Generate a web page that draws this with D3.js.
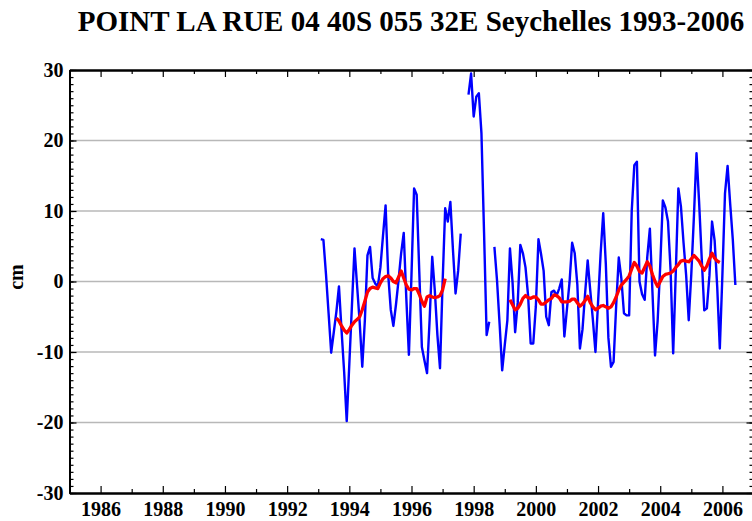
<!DOCTYPE html>
<html>
<head>
<meta charset="utf-8">
<script src="https://cdn.jsdelivr.net/npm/d3@7"></script>
<style>
  body { margin: 0; background: #fff; }
  text { font-family: "Liberation Serif", "Times New Roman", serif; font-weight: bold; fill: #000; }
</style>
</head>
<body>
<div id="chart"></div>
<script>
// Monthly sea level (cm), first value is Jan 1993; null = no data
var startYear = 1993;
var blueValues = [
    6.0, 5.9, 1.0, -4.5, -10.1, -7.2, -4.3, -0.7, -6.9, -12.8, -19.8, -11.7,
    -3.5, 4.7, -0.6, -5.8, -12.1, -5.5, 3.7, 4.9, 0.5, -0.3, -0.7, 2.0,
    6.5, 10.8, 1.0, -4.0, -6.3, -3.3, 0.2, 4.0, 6.9, -2.4, -10.4, 1.0,
    13.2, 12.3, 1.4, -9.3, -11.2, -13.0, -5.4, 3.5, -1.3, -7.6, -12.3, -0.2,
    10.4, 8.5, 11.3, 4.5, -1.7, 1.5, 6.8, null, null, 26.5, 29.5, 23.4,
    26.2, 26.7, 21.0, 7.0, -7.6, -5.7, null, 4.9, 0.2, -6.0, -12.6, -9.0,
    -5.5, 4.7, -0.1, -7.2, -3.0, 5.2, 4.0, 2.0, -2.0, -8.8, -8.8, -3.5,
    6.0, 3.9, 1.5, -5.0, -6.2, -1.5, -1.3, -2.0, -1.0, 0.3, -7.8, -3.9,
    -0.1, 5.5, 4.0, -0.4, -9.5, -6.8, -1.7, 3.0, -1.3, -5.4, -10.0, -3.0,
    4.0, 9.7, 2.5, -8.0, -12.1, -11.4, -3.4, 3.4, 0.4, -4.5, -4.8, -4.8,
    10.0, 16.5, 17.0, 0.0, -1.8, -2.6, 3.5, 7.5, -1.5, -10.5, -5.6, 2.2,
    11.5, 10.5, 8.5, 1.6, -10.2, 1.2, 13.2, 10.6, 5.5, 0.9, -5.5, 1.1,
    9.2, 18.2, 11.3, 3.4, -4.1, -3.8, 0.9, 8.5, 5.8, -0.8, -9.5, 1.0,
    12.5, 16.4, 11.0, 6.0, -0.5
];

// Smoothed (red) curve, two pieces; start = month index counted from Jan 1993
var redStart1 = 6;
var redValues1 = [
    -5.2, -5.6, -6.3, -6.9, -7.3, -6.8, -6.2, -5.7, -5.4, -5.0, -4.0, -2.8,
    -1.5, -1.0, -0.8, -0.9, -1.0, -0.2, 0.4, 0.7, 0.8, 0.5, 0.0, -0.2,
    0.6, 1.5, 0.5, -0.5, -1.1, -1.2, -1.0, -1.0, -1.8, -2.8, -3.5, -2.2,
    -2.0, -2.2, -2.3, -2.2, -2.0, -1.2, 0.4
];
var redStart2 = 73;
var redValues2 = [
    -2.6, -3.3, -4.0, -3.8, -3.2, -2.4, -2.0, -2.3, -2.4, -2.2, -2.2, -2.6,
    -3.2, -3.2, -2.9, -2.6, -2.4, -1.9, -2.0, -2.3, -2.9, -2.9, -2.9, -2.8,
    -2.5, -2.5, -3.0, -3.5, -3.2, -2.7, -2.1, -3.0, -3.6, -4.0, -3.8, -3.5,
    -3.4, -3.6, -3.8, -3.6, -3.0, -2.2, -1.2, -0.5, -0.1, 0.3, 0.8, 1.8,
    2.7, 2.2, 1.4, 1.2, 2.0, 2.8, 2.2, 1.0, 0.0, -0.7, 0.0, 0.7,
    1.0, 1.1, 1.2, 1.5, 2.0, 2.4, 2.9, 3.0, 2.9, 2.8, 3.2, 3.7,
    3.3, 2.9, 2.2, 1.6, 2.2, 3.2, 4.0, 3.3, 2.9, 2.7
];

var xLabelYears = [1986, 1988, 1990, 1992, 1994, 1996, 1998, 2000, 2002, 2004, 2006];
var xMinorYears = [1985, 1987, 1989, 1991, 1993, 1995, 1997, 1999, 2001, 2003, 2005, 2007];
var yMajorTicks = [-30, -20, -10, 0, 10, 20, 30];
var yGridValues = [-20, -10, 0, 10, 20];
var titleText = "POINT LA RUE 04 40S 055 32E Seychelles 1993-2006";

function monthTime(i) { return startYear + (i + 1) / 12; }

var width = 752, height = 521;
var plotLeft = 69.5, plotRight = 753.5, plotTop = 70, plotBottom = 493;

var svg = d3.select("#chart").append("svg")
    .attr("width", width)
    .attr("height", height);

svg.append("rect").attr("width", width).attr("height", height).attr("fill", "#fff");

var x = d3.scaleLinear().domain([1985, 2007]).range([plotLeft, plotRight]);
var y = d3.scaleLinear().domain([-30, 30]).range([plotBottom, plotTop]);

// grid
svg.append("g").selectAll("line")
    .data(yGridValues)
    .enter().append("line")
    .attr("x1", plotLeft).attr("x2", plotRight)
    .attr("y1", d => y(d)).attr("y2", d => y(d))
    .attr("stroke", "#b8b8b8")
    .attr("stroke-width", 1.3);

// series
var blueData = blueValues.map((v, i) => ({t: monthTime(i), v: v}));
var line = d3.line()
    .defined(d => d.v !== null)
    .x(d => x(d.t))
    .y(d => y(d.v));

svg.append("path")
    .datum(blueData)
    .attr("fill", "none")
    .attr("stroke", "#0000ff")
    .attr("stroke-width", 2.4)
    .attr("stroke-linejoin", "round")
    .attr("d", line);

[[redStart1, redValues1], [redStart2, redValues2]].forEach(function(s) {
    var pts = s[1].map((v, i) => ({t: monthTime(s[0] + i), v: v}));
    svg.append("path")
        .datum(pts)
        .attr("fill", "none")
        .attr("stroke", "#ff0000")
        .attr("stroke-width", 3.3)
        .attr("stroke-linejoin", "round")
        .attr("d", line);
});

// axes: ticks point inward
function styleAxis(g) {
    g.select(".domain").attr("stroke", "#000").attr("stroke-width", 2);
    g.selectAll(".tick line").attr("stroke", "#000").attr("stroke-width", 1.2);
    g.selectAll("text").attr("font-size", 20).attr("font-family", "Liberation Serif, serif")
        .attr("font-weight", "bold").attr("fill", "#000");
}

var yMinor = d3.range(-30, 31, 1);
var plainFormat = function(d) { return String(d); };

svg.append("g").attr("transform", "translate(0," + plotBottom + ")")
    .call(d3.axisBottom(x).tickValues(xMinorYears).tickSize(-4).tickSizeOuter(0).tickFormat(""))
    .call(styleAxis);
svg.append("g").attr("transform", "translate(0," + plotBottom + ")")
    .call(d3.axisBottom(x).tickValues(xLabelYears).tickSize(-7).tickSizeOuter(0).tickPadding(9).tickFormat(plainFormat))
    .call(styleAxis);

svg.append("g").attr("transform", "translate(0," + plotTop + ")")
    .call(d3.axisTop(x).tickValues(xMinorYears).tickSize(-4).tickSizeOuter(0).tickFormat(""))
    .call(styleAxis);
svg.append("g").attr("transform", "translate(0," + plotTop + ")")
    .call(d3.axisTop(x).tickValues(xLabelYears).tickSize(-7).tickSizeOuter(0).tickFormat(""))
    .call(styleAxis);

svg.append("g").attr("transform", "translate(" + plotLeft + ",0)")
    .call(d3.axisLeft(y).tickValues(yMinor).tickSize(-4).tickSizeOuter(0).tickFormat(""))
    .call(styleAxis);
svg.append("g").attr("transform", "translate(" + plotLeft + ",0)")
    .call(d3.axisLeft(y).tickValues(yMajorTicks).tickSize(-7).tickSizeOuter(0).tickPadding(6).tickFormat(plainFormat))
    .call(styleAxis);

svg.append("g").attr("transform", "translate(" + plotRight + ",0)")
    .call(d3.axisRight(y).tickValues(yMinor).tickSize(-4).tickSizeOuter(0).tickFormat(""))
    .call(styleAxis);
svg.append("g").attr("transform", "translate(" + plotRight + ",0)")
    .call(d3.axisRight(y).tickValues(yMajorTicks).tickSize(-7).tickSizeOuter(0).tickFormat(""))
    .call(styleAxis);

// title and y label
svg.append("text")
    .attr("x", 411)
    .attr("y", 31)
    .attr("text-anchor", "middle")
    .attr("font-size", 29)
    .text(titleText);

svg.append("text")
    .attr("transform", "translate(23,277) rotate(-90)")
    .attr("text-anchor", "middle")
    .attr("font-size", 20)
    .text("cm");
</script>
</body>
</html>
